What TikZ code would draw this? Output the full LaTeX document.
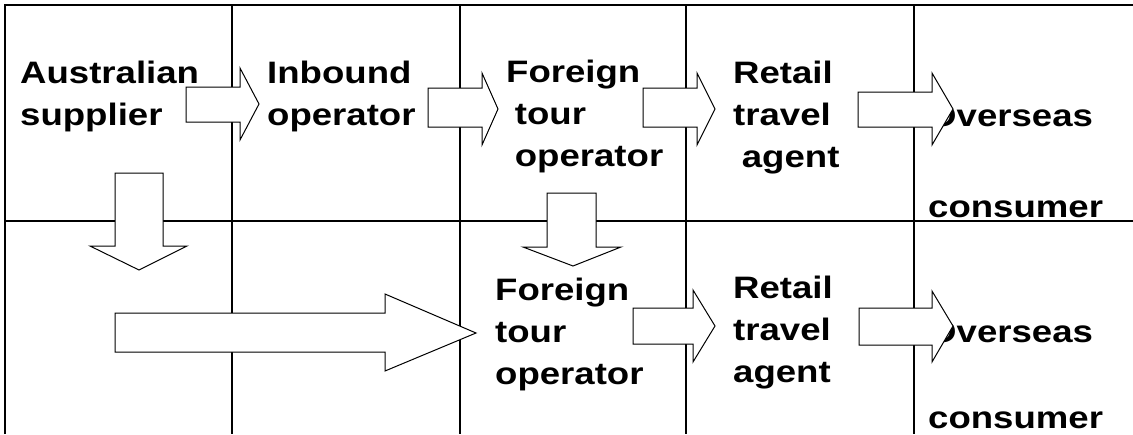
\documentclass[tikz,border=0pt]{standalone}
\usepackage{fontspec}
\usetikzlibrary{positioning}
\newfontfamily\cellfont[FakeStretch=1.18]{Liberation Sans}
\tikzset{grid/.style={line width=1.3pt},blk/.style={draw=black,fill=white,line width=1pt,line join=miter},lab/.style={anchor=base west,inner sep=0pt,align=left,font=\cellfont\bfseries\fontsize{31}{42}\selectfont}}
\newcommand{\ind}{\hspace*{0.28em}}

\begin{document}
\begin{tikzpicture}[x=1pt,y=-1pt]
\useasboundingbox (0,0) rectangle (1133,434);
\draw[grid] (5,434)--(5,5)--(1133,5); \draw[grid] (5,221)--(1133,221);
\foreach \x in {232,460,686,914} \draw[grid] (\x,5)--(\x,434);
\node[lab] (sup) at (20,125) {Australian\\supplier};
\node[lab] (inb) at (267,125) {Inbound\\operator};
\node[lab] (fto) at (506,166) {Foreign\\\ind tour\\\ind operator};
\node[lab] (rta) at (733,167) {Retail\\travel\\\ind agent};
\node[lab] (ovs) at (928,126) {Overseas};
\node[lab] (con) at (928,217) {consumer};
\node[lab] (fto2) at (495,384) {Foreign\\tour\\operator};
\node[lab] (rta2) at (733,382) {Retail\\travel\\agent};
\node[lab] (ovs2) at (928,342) {Overseas};
\node[lab] (con2) at (928,428) {consumer};
\draw[blk] (186,87)--(240,87)--(240,68)--(259,104)--(240,140)--(240,122)--(186,122)--cycle;
\draw[blk] (428,88)--(482,88)--(482,73)--(498,109)--(482,145)--(482,127)--(428,127)--cycle;
\draw[blk] (643,88)--(697,88)--(697,73)--(715,109)--(697,145)--(697,127)--(643,127)--cycle;
\draw[blk] (858,92)--(932,92)--(932,73)--(953,109)--(932,145)--(932,127)--(858,127)--cycle;
\draw[blk] (115,313)--(385,313)--(385,294)--(476,333)--(385,371)--(385,352)--(115,352)--cycle;
\draw[blk] (633,308)--(693,308)--(693,290)--(715,326)--(693,362)--(693,344)--(633,344)--cycle;
\draw[blk] (859,308)--(932,308)--(932,291)--(953,326)--(932,362)--(932,345)--(859,345)--cycle;
\draw[blk] (115,173)--(163,173)--(163,246)--(187,246)--(139,270)--(90,246)--(115,246)--cycle;
\draw[blk] (547,193)--(596,193)--(596,247)--(621,247)--(573,266)--(523,247)--(547,247)--cycle;
\end{tikzpicture}
\end{document}
